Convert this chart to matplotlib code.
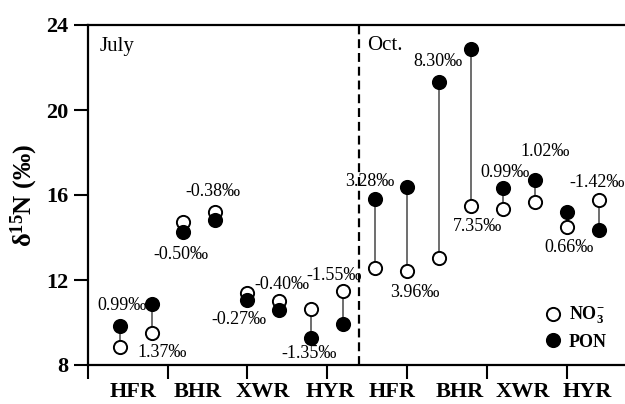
import matplotlib
matplotlib.use("Agg")
import matplotlib.pyplot as plt
from matplotlib.lines import Line2D

plt.rcParams['font.family'] = ['Liberation Serif', 'DejaVu Serif']
plt.rcParams['mathtext.fontset'] = 'custom'
plt.rcParams['mathtext.rm'] = 'Liberation Serif'
plt.rcParams['mathtext.bf'] = 'Liberation Serif:bold'
plt.rcParams['mathtext.it'] = 'Liberation Serif:italic'

# ---- data ----
months = ['July', 'Oct.']
sites = ['HFR', 'BHR', 'XWR', 'HYR']
category_labels = sites + sites
no3 = [8.85, 9.49, 14.74, 15.20, 11.37, 11.00, 10.64, 11.46,
       12.56, 12.44, 13.03, 15.47, 15.36, 15.67, 14.48, 15.78]
pon = [9.84, 10.86, 14.24, 14.82, 11.07, 10.60, 9.29, 9.95,
       15.82, 16.40, 21.32, 22.86, 16.33, 16.69, 15.18, 14.33]
diff_labels = ['0.99‰', '1.37‰', '-0.50‰', '-0.38‰', '-0.27‰', '-0.40‰', '-1.35‰', '-1.55‰',
               '3.28‰', '3.96‰', '8.30‰', '7.35‰', '0.99‰', '1.02‰', '0.66‰', '-1.42‰']
yticks = [8, 12, 16, 20, 24]

# ---- layout (text placement) ----
diff_label_pos = [(0.07, 10.78), (1.33, 8.61), (1.92, 13.19), (2.92, 16.16),
                  (3.74, 10.12), (5.09, 11.77), (5.93, 8.52), (6.71, 12.20),
                  (7.84, 16.63), (9.25, 11.40), (9.97, 22.29), (11.22, 14.51),
                  (12.07, 17.06), (13.32, 18.05), (14.07, 13.52), (14.97, 16.58)]
category_label_x = [0.42, 2.45, 4.49, 6.59, 8.53, 10.66, 12.63, 14.66]

x = list(range(len(no3)))

fig = plt.figure(figsize=(6.25, 4.04), dpi=100)
ax = fig.add_axes([87.7 / 625, 39 / 404, 1 - 87.7 / 625, 340 / 404])

for xi, a, b in zip(x, no3, pon):
    ax.plot([xi, xi], [a, b], color='#555555', lw=1.2, zorder=1)

ax.plot(x, no3, 'o', ms=9.5, mfc='white', mec='black', mew=1.4, ls='none', zorder=2)
ax.plot(x, pon, 'o', ms=9.5, mfc='black', mec='black', mew=1.4, ls='none', zorder=3)

for (tx, ty), s in zip(diff_label_pos, diff_labels):
    ax.text(tx, ty, s, fontsize=13, ha='center', va='center', clip_on=False)

ax.axvline(7.5, color='black', lw=1.6, ls=(0, (4, 2.2)), zorder=0)

ax.set_xlim(-1, 15.83)
ax.set_ylim(8, 24)
ax.set_yticks(yticks)
ax.set_yticklabels([str(t) for t in yticks], fontsize=16, fontweight='bold')
ax.set_xticks([-1, 1.5, 4, 6.5, 9, 11.5, 14])
ax.set_xticklabels([])
ax.tick_params(axis='y', direction='out', length=10, width=1.5, pad=4)
ax.tick_params(axis='x', direction='out', length=10, width=1.5)

for sp in ['left', 'bottom', 'top']:
    ax.spines[sp].set_linewidth(1.6)
ax.spines['right'].set_visible(False)

for cx, lab in zip(category_label_x, category_labels):
    ax.text(cx, 6.72, lab, fontsize=16, fontweight='bold', ha='center', va='center', clip_on=False)

ax.text(-0.62, 23.0, months[0], fontsize=15, ha='left', va='center')
ax.text(7.76, 23.05, months[1], fontsize=15, ha='left', va='center')

ax.set_ylabel(r'δ$^{\mathbf{15}}$N (‰)', fontsize=19, fontweight='bold', labelpad=4)

handles = [Line2D([], [], marker='o', ls='none', ms=9.5, mfc='white', mec='black', mew=1.4),
           Line2D([], [], marker='o', ls='none', ms=9.5, mfc='black', mec='black', mew=1.4)]
ax.legend(handles, [r'NO$_\mathbf{3}^\mathbf{-}$', 'PON'], loc='upper left',
          bbox_to_anchor=(0.835, 0.198), frameon=False, handlelength=1.0,
          handletextpad=0.4, labelspacing=0.4, borderaxespad=0,
          prop={'size': 13, 'weight': 'bold'})

fig.savefig('out.png', dpi=100)
